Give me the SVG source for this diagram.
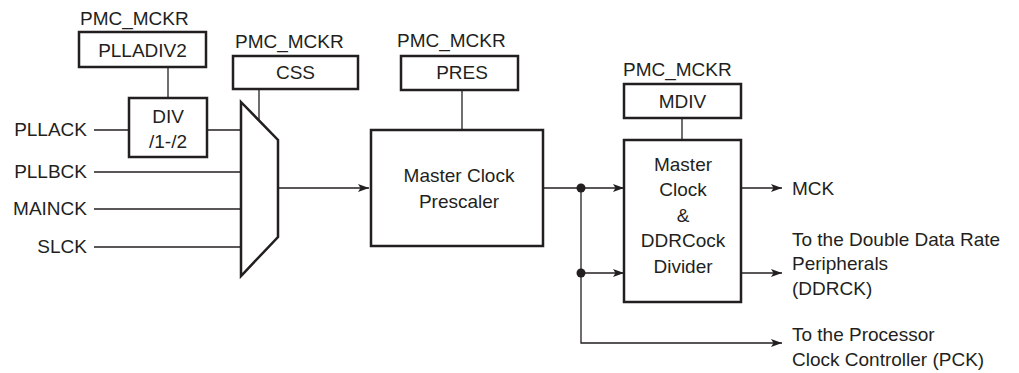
<svg xmlns="http://www.w3.org/2000/svg" width="1019" height="373" viewBox="0 0 1019 373">
<defs>
<style>
text{font-family:"Liberation Sans",Arial,sans-serif;font-size:19px;fill:#231f20}
.box{fill:#fff;stroke:#231f20;stroke-width:2.5}
.ln{fill:none;stroke:#231f20;stroke-width:1.3}
.c{text-anchor:middle}
.e{text-anchor:end}
</style>
<marker id="ah" markerWidth="12" markerHeight="10" refX="11" refY="5" orient="auto" markerUnits="userSpaceOnUse">
<path d="M0,1 L11,5 L0,9 L2.5,5 Z" fill="#231f20"/>
</marker>
</defs>
<rect width="1019" height="373" fill="#fff"/>
<g id="connectors">
<line class="ln" x1="94" y1="130" x2="129" y2="130"/>
<line class="ln" x1="207" y1="130" x2="241" y2="130"/>
<line class="ln" x1="94" y1="172" x2="241" y2="172"/>
<line class="ln" x1="94" y1="209" x2="241" y2="209"/>
<line class="ln" x1="94" y1="247" x2="241" y2="247"/>
<line class="ln" x1="168" y1="67" x2="168" y2="98"/>
<line class="ln" x1="259" y1="89" x2="259" y2="120"/>
<line class="ln" x1="462" y1="90" x2="462" y2="130"/>
<line class="ln" x1="682" y1="118" x2="682" y2="140"/>
<line class="ln" x1="278" y1="188" x2="369" y2="188" marker-end="url(#ah)"/>
<line class="ln" x1="543" y1="188" x2="624" y2="188" marker-end="url(#ah)"/>
<polyline class="ln" points="581,188 581,343 782,343" marker-end="url(#ah)"/>
<line class="ln" x1="581" y1="273" x2="624" y2="273" marker-end="url(#ah)"/>
<line class="ln" x1="741" y1="188" x2="782" y2="188" marker-end="url(#ah)"/>
<line class="ln" x1="741" y1="273" x2="782" y2="273" marker-end="url(#ah)"/>
<circle cx="581" cy="188" r="4.5" fill="#231f20"/>
<circle cx="581" cy="273" r="4.5" fill="#231f20"/>
</g>
<g id="inputs">
<text class="e" x="87" y="136">PLLACK</text>
<text class="e" x="87" y="178">PLLBCK</text>
<text class="e" x="87" y="215">MAINCK</text>
<text class="e" x="87" y="253">SLCK</text>
</g>
<g id="plladiv2">
<text x="80" y="25">PMC_MCKR</text>
<rect class="box" x="79" y="32" width="127" height="35"/>
<text class="c" x="142.5" y="57">PLLADIV2</text>
</g>
<g id="div">
<rect class="box" x="129" y="98" width="78" height="59"/>
<text class="c" x="168" y="123">DIV</text>
<text class="c" x="168" y="148">/1-/2</text>
</g>
<g id="css">
<text x="235" y="48">PMC_MCKR</text>
<rect class="box" x="233" y="56" width="125" height="33"/>
<text class="c" x="295.5" y="79">CSS</text>
</g>
<g id="mux">
<polygon class="box" points="241,102 278,140 278,237 241,276"/>
</g>
<g id="pres">
<text x="397" y="47">PMC_MCKR</text>
<rect class="box" x="401" y="56" width="117" height="34"/>
<text class="c" x="462" y="79">PRES</text>
</g>
<g id="prescaler">
<rect class="box" x="371" y="130" width="172" height="116"/>
<text class="c" x="459" y="182">Master Clock</text>
<text class="c" x="459" y="208">Prescaler</text>
</g>
<g id="mdiv">
<text x="623" y="76">PMC_MCKR</text>
<rect class="box" x="624" y="84" width="117" height="34"/>
<text class="c" x="682.5" y="108">MDIV</text>
</g>
<g id="divider">
<rect class="box" x="624" y="140" width="117" height="162"/>
<text class="c" x="683" y="171">Master</text>
<text class="c" x="683" y="196">Clock</text>
<text class="c" x="683" y="222">&amp;</text>
<text class="c" x="683" y="247">DDRCock</text>
<text class="c" x="683" y="273">Divider</text>
</g>
<g id="outputs">
<text x="792" y="195">MCK</text>
<text x="792" y="246">To the Double Data Rate</text>
<text x="792" y="270">Peripherals</text>
<text x="792" y="295">(DDRCK)</text>
<text x="792" y="341">To the Processor</text>
<text x="792" y="366">Clock Controller (PCK)</text>
</g>
</svg>
